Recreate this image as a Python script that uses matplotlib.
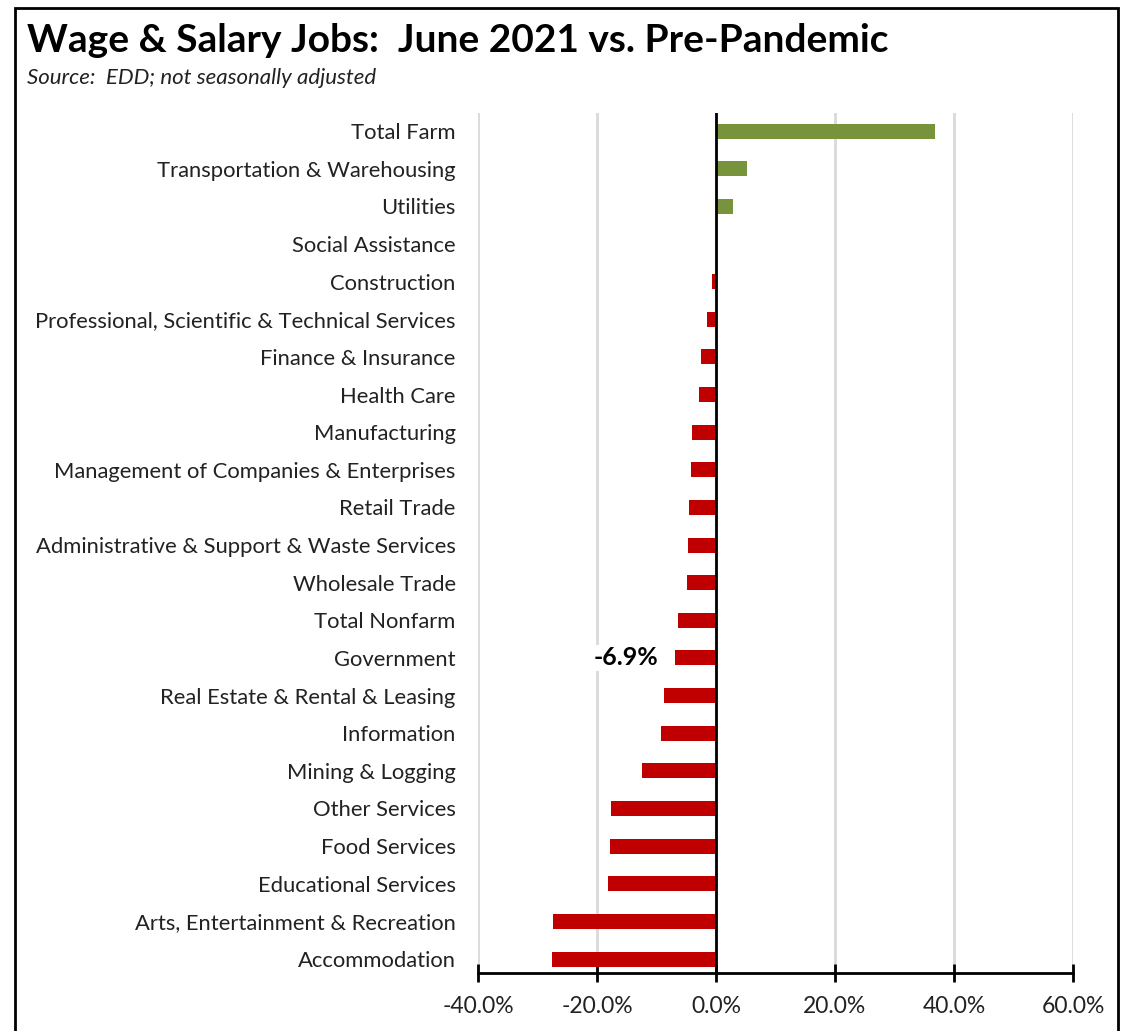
import matplotlib
matplotlib.use("Agg")
import matplotlib.pyplot as plt
from matplotlib.patches import Rectangle
from matplotlib.ticker import FuncFormatter

plt.rcParams['font.family'] = ['Lato', 'DejaVu Sans']

# data (percent change vs pre-pandemic)
categories = [
    "Total Farm", "Transportation & Warehousing", "Utilities", "Social Assistance",
    "Construction", "Professional, Scientific & Technical Services",
    "Finance & Insurance", "Health Care", "Manufacturing",
    "Management of Companies & Enterprises", "Retail Trade",
    "Administrative & Support & Waste Services", "Wholesale Trade",
    "Total Nonfarm", "Government", "Real Estate & Rental & Leasing",
    "Information", "Mining & Logging", "Other Services", "Food Services",
    "Educational Services", "Arts, Entertainment & Recreation", "Accommodation",
]
values = [36.8, 5.2, 2.9, 0.0, -0.7, -1.5, -2.5, -2.9, -4.0, -4.2, -4.5, -4.7,
          -4.9, -6.4, -6.9, -8.7, -9.2, -12.4, -17.6, -17.8, -18.2, -27.4, -27.6]
xticks = [-40, -20, 0, 20, 40, 60]
label_cat = "Government"

fig = plt.figure(figsize=(11.24, 10.31), dpi=100)
ax = fig.add_axes([0.4253, 0.0563, 0.5293, 0.8341])

ypos = list(range(len(categories)))
colors = ['#77933C' if v > 0 else '#C00000' for v in values]
ax.barh(ypos, values, height=0.4, color=colors, zorder=3)

ax.set_xlim(-40, 60)
ax.set_ylim(22.37, -0.48)
ax.set_xticks(xticks)
ax.xaxis.set_major_formatter(FuncFormatter(lambda v, p: f"{v:.1f}%"))
ax.set_yticks(ypos)
ax.set_yticklabels(categories)
ax.tick_params(axis='y', length=0, pad=16, labelsize=15.8, labelcolor='#222222')
ax.tick_params(axis='x', direction='inout', length=13, width=2, pad=10,
               labelsize=16.5, labelcolor='#222222')
for s in ['left', 'top', 'right']:
    ax.spines[s].set_visible(False)
ax.spines['bottom'].set_linewidth(2)
ax.grid(axis='x', color='#d9d9d9', linewidth=2, zorder=0)
ax.axvline(0, color='black', linewidth=2, zorder=4)

i = categories.index(label_cat)
ax.text(values[i] - 2.8, i, f"{values[i]:.1f}%", ha='right', va='center',
        fontsize=18, fontweight='bold', zorder=5,
        bbox=dict(facecolor='white', edgecolor='none', pad=1))

fig.text(27 / 1124, 1 - 40 / 1031, "Wage & Salary Jobs:  June 2021 vs. Pre-Pandemic",
         fontsize=28, fontweight='bold', va='center', ha='left')
fig.text(27 / 1124, 1 - 78 / 1031, "Source:  EDD; not seasonally adjusted",
         fontsize=16, style='italic', va='center', ha='left', color='#222222')

fig.add_artist(Rectangle((15 / 1124, -0.05), (1118 - 15) / 1124, 1.05 - 8 / 1031,
                         transform=fig.transFigure, fill=False,
                         edgecolor='black', linewidth=2))

fig.savefig("out.png", dpi=100)
